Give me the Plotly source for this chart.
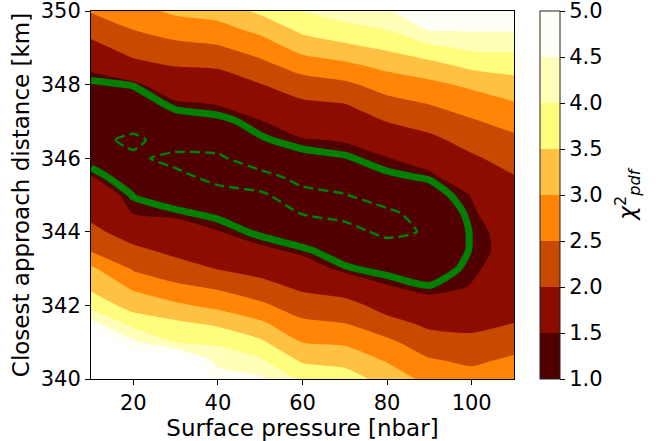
import plotly.graph_objects as go

# Surface pressure grid [nbar]
pressure = [10, 20, 30, 40, 50, 60, 70, 80, 90, 100, 110]
# Closest approach distance grid [km]
distance = [340.0, 340.5, 341.0, 341.5, 342.0, 342.5, 343.0, 343.5, 344.0, 344.5,
            345.0, 345.5, 346.0, 346.5, 347.0, 347.5, 348.0, 348.5, 349.0, 349.5, 350.0]

# chi2_pdf values, one row per distance (bottom to top), one column per pressure
chi2_340_0 = [6.8, 6.2, 6.0, 4.8, 4.6, 3.9, 3.75, 3.3, 2.85, 2.7, 2.85]
chi2_340_5 = [6.2, 5.6, 5.6, 4.32, 4.07, 3.43, 3.33, 2.96, 2.55, 2.41, 2.59]
chi2_341_0 = [5.6, 4.6, 4.0, 3.91, 3.59, 2.99, 2.92, 2.61, 2.22, 2.12, 2.30]
chi2_341_5 = [4.69, 3.82, 3.61, 3.42, 3.1, 2.61, 2.51, 2.18, 1.90, 1.88, 2.01]
chi2_342_0 = [3.80, 3.31, 3.09, 2.87, 2.6, 2.24, 2.2, 1.79, 1.6, 1.69, 1.8]
chi2_342_5 = [3.40, 2.92, 2.60, 2.43, 2.17, 1.91, 1.70, 1.52, 1.43, 1.51, 1.68]
chi2_343_0 = [3.09, 2.44, 2.19, 1.98, 1.83, 1.62, 1.44, 1.36, 1.31, 1.47, 1.6]
chi2_343_5 = [2.45, 2.10, 1.88, 1.74, 1.55, 1.45, 1.32, 1.24, 1.17, 1.44, 1.57]
chi2_344_0 = [2.12, 1.78, 1.64, 1.51, 1.38, 1.25, 1.2, 1.03, 1.13, 1.44, 1.59]
chi2_344_5 = [1.88, 1.49, 1.45, 1.38, 1.25, 1.09, 1.02, 1.05, 1.2, 1.47, 1.67]
chi2_345_0 = [1.69, 1.41, 1.31, 1.17, 1.12, 1.03, 1.09, 1.22, 1.33, 1.51, 1.8]
chi2_345_5 = [1.51, 1.27, 1.15, 1.04, 1.02, 1.18, 1.22, 1.39, 1.44, 1.72, 1.98]
chi2_346_0 = [1.32, 1.14, 1.04, 1.06, 1.24, 1.36, 1.40, 1.49, 1.64, 1.93, 2.19]
chi2_346_5 = [1.17, 1.05, 1.22, 1.22, 1.40, 1.48, 1.52, 1.75, 1.89, 2.18, 2.40]
chi2_347_0 = [1.17, 1.2, 1.33, 1.37, 1.48, 1.71, 1.76, 2.01, 2.19, 2.45, 2.67]
chi2_347_5 = [1.26, 1.31, 1.47, 1.52, 1.73, 1.93, 2.01, 2.35, 2.53, 2.75, 2.97]
chi2_348_0 = [1.38, 1.43, 1.72, 1.78, 1.98, 2.27, 2.40, 2.71, 2.88, 3.1, 3.32]
chi2_348_5 = [1.56, 1.85, 2.01, 2.04, 2.34, 2.70, 2.87, 3.12, 3.32, 3.6, 3.68]
chi2_349_0 = [1.84, 2.19, 2.35, 2.44, 2.72, 3.18, 3.37, 3.58, 3.86, 4.09, 4.09]
chi2_349_5 = [2.17, 2.51, 2.72, 2.83, 3.13, 3.62, 3.84, 4.01, 4.55, 4.55, 4.55]
chi2_350_0 = [2.54, 2.8, 3.1, 3.2, 3.6, 4.0, 4.25, 4.45, 4.9, 4.95, 4.95]

chi2 = [chi2_340_0, chi2_340_5, chi2_341_0, chi2_341_5, chi2_342_0, chi2_342_5,
        chi2_343_0, chi2_343_5, chi2_344_0, chi2_344_5, chi2_345_0, chi2_345_5,
        chi2_346_0, chi2_346_5, chi2_347_0, chi2_347_5, chi2_348_0, chi2_348_5,
        chi2_349_0, chi2_349_5, chi2_350_0]

# contour levels
level_start, level_end, level_step = 1.0, 5.0, 0.5
solid_level = 1.42
dashed_level = 1.1
cbar_ticks = [1.0, 1.5, 2.0, 2.5, 3.0, 3.5, 4.0, 4.5, 5.0]

# band colours (1.0-1.5 ... 4.5-5.0), plus above-range colour
band_colors = ["#500000", "#8c0d00", "#c84900", "#ff8506",
               "#ffc142", "#fffd7e", "#ffffba", "#fffff6"]
above_color = "#ffffff"

# contour fill colormap: plotly maps [0,1] onto [start - step/2, end + step/2]
fill_stops = [band_colors[0]] + band_colors + [above_color]
nfs = len(fill_stops) - 1
fill_colorscale = [[i / nfs, c] for i, c in enumerate(fill_stops)]

# discrete colorbar scale spanning exactly 1.0 .. 5.0
nb = len(band_colors)
bar_colorscale = []
for i, c in enumerate(band_colors):
    bar_colorscale.append([i / nb, c])
    bar_colorscale.append([(i + 1) / nb, c])

FONT = "DejaVu Sans"
TICK = 21
TITLE = 23

fig = go.Figure()
fig.add_trace(go.Contour(
    x=pressure, y=distance, z=chi2,
    colorscale=fill_colorscale, showscale=False,
    contours=dict(start=level_start, end=level_end, size=level_step,
                  coloring="fill", showlines=False),
    line=dict(width=0, smoothing=0.6),
    hoverinfo="skip",
))
fig.add_trace(go.Contour(
    x=pressure, y=distance, z=chi2, showscale=False,
    contours=dict(start=solid_level, end=solid_level, size=1, coloring="none"),
    line=dict(color="green", width=7, smoothing=0.6),
    hoverinfo="skip",
))
fig.add_trace(go.Contour(
    x=pressure, y=distance, z=chi2, showscale=False,
    contours=dict(start=dashed_level, end=dashed_level, size=1, coloring="none"),
    line=dict(color="green", width=2.5, dash="10px,5px", smoothing=0.6),
    hoverinfo="skip",
))
# colorbar carrier
fig.add_trace(go.Scatter(
    x=[None], y=[None], mode="markers", hoverinfo="skip",
    marker=dict(
        color=[level_start], cmin=level_start, cmax=level_end,
        colorscale=bar_colorscale, showscale=True,
        colorbar=dict(
            thickness=20, len=1, lenmode="fraction", y=0.5, yanchor="middle",
            x=1.061, xanchor="left", xpad=0, ypad=0,
            outlinewidth=1, outlinecolor="#222",
            tickvals=cbar_ticks, ticktext=[f"{t:.1f}" for t in cbar_ticks],
            ticks="outside", ticklen=5, tickcolor="black",
            ticklabeloverflow="allow",
            tickfont=dict(family=FONT, size=TICK, color="black"),
        ),
    ),
))

axis_common = dict(
    showline=True, linecolor="black", linewidth=1, mirror=True,
    ticks="outside", ticklen=5, tickcolor="black", showgrid=False, zeroline=False,
    tickfont=dict(family=FONT, size=TICK, color="black"), automargin=False,
    ticklabeloverflow="allow",
)
fig.update_xaxes(range=[10, 110], tickvals=[20, 40, 60, 80, 100],
                 title=dict(text="Surface pressure [nbar]",
                            font=dict(family=FONT, size=TITLE, color="black"), standoff=4),
                 **axis_common)
fig.update_yaxes(range=[340, 350], tickvals=[340, 342, 344, 346, 348, 350],
                 title=dict(text="Closest approach distance [km]",
                            font=dict(family=FONT, size=TITLE, color="black"), standoff=4),
                 **axis_common)

fig.add_annotation(
    text="<i>χ</i><sup>2</sup><sub><i>pdf</i></sub>",
    xref="paper", yref="paper", x=1.31, y=0.5, textangle=-90,
    showarrow=False, font=dict(family=FONT, size=TITLE, color="black"),
)

fig.update_layout(
    width=657, height=441,
    margin=dict(l=91, r=143, t=11, b=62, autoexpand=False),
    paper_bgcolor="white", plot_bgcolor="white",
    showlegend=False,
)

# remove the default page margin so the figure sits at the window's top-left
fig.write_html("out.html", config={"displayModeBar": False},
               post_script="document.body.style.margin='0';")
